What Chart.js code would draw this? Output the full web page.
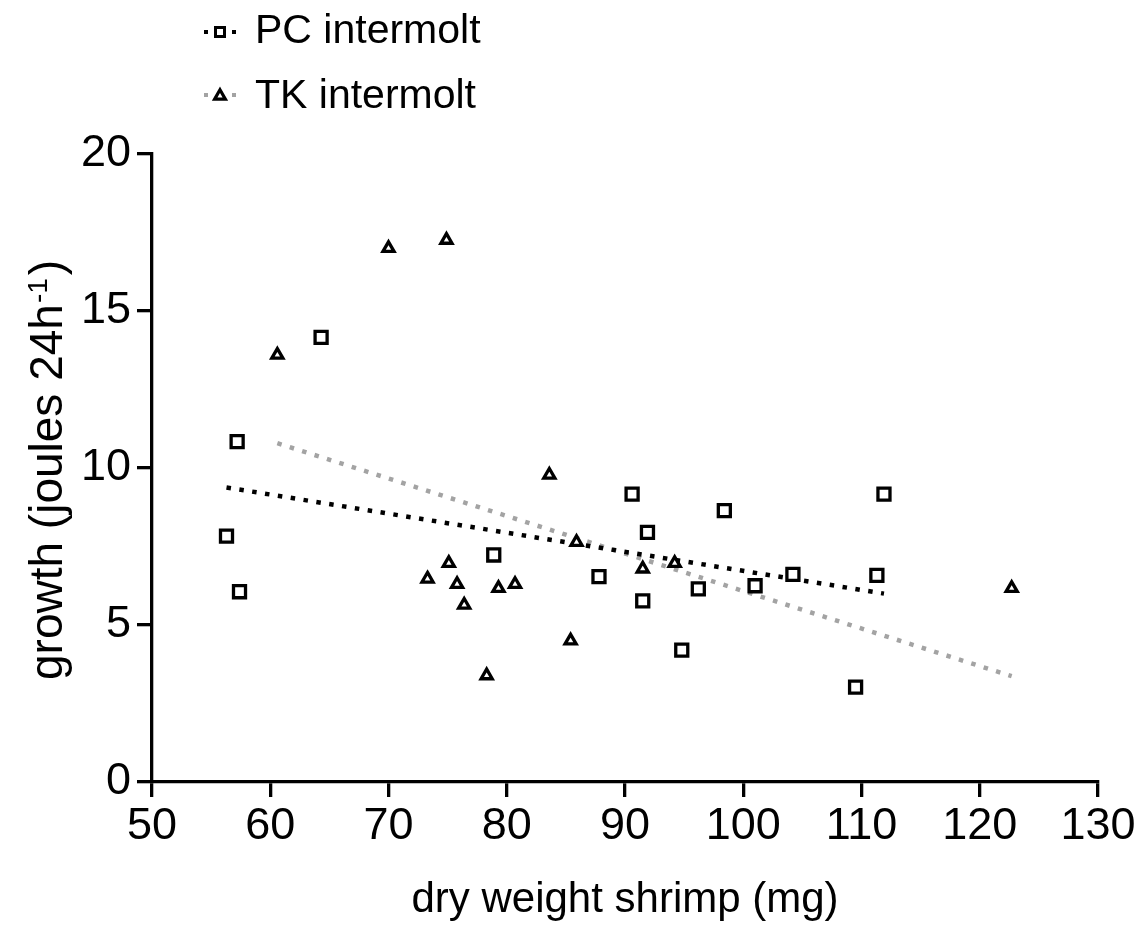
<!DOCTYPE html>
<html>
<head>
<meta charset="utf-8">
<script src="https://cdn.jsdelivr.net/npm/chart.js@4.4.1/dist/chart.umd.min.js"></script>
<style>
  html, body { margin: 0; padding: 0; background: #fff; }
  #wrap { width: 1141px; height: 927px; }
</style>
</head>
<body>
<div id="wrap"><canvas id="c" width="1141" height="927"></canvas></div>
<script>
// ---- data ----
const pcX = [56.3, 57.2, 57.4, 64.3, 78.9, 87.8, 90.6, 91.5, 91.9, 94.8, 96.2, 98.4, 101.0, 104.2, 109.5, 111.3, 111.9];
const pcY = [7.83, 10.84, 6.06, 14.16, 7.23, 6.54, 9.17, 5.77, 7.95, 4.20, 6.15, 8.64, 6.25, 6.61, 3.02, 6.58, 9.17];

const tkX = [60.6, 70.0, 74.9, 73.3, 75.1, 75.8, 76.4, 78.3, 79.3, 80.7, 83.6, 85.4, 85.9, 91.5, 94.2, 122.7];
const tkY = [13.60, 17.00, 17.26, 6.47, 6.97, 6.30, 5.64, 3.39, 6.17, 6.30, 9.78, 4.50, 7.64, 6.79, 6.97, 6.17];

// fitted regression lines (end points)
const pcFitX = [56.3, 111.9];
const pcFitY = [9.38, 6.00];
const tkFitX = [60.6, 122.7];
const tkFitY = [10.79, 3.37];

const xTicks = [50, 60, 70, 80, 90, 100, 110, 120, 130];
const yTicks = [0, 5, 10, 15, 20];

const seriesNames = ['PC intermolt', 'TK intermolt'];
const xTitle = 'dry weight shrimp (mg)';
const yTitleMain = 'growth (joules 24h';
const yTitleSup = '-1';
const yTitleEnd = ')';

// ---- build ----
const toPts = (xs, ys) => xs.map((x, i) => ({x: x, y: ys[i]}));
const FONT = "'Liberation Sans', Arial, Helvetica, sans-serif";
const GREY = '#a3a3a3';

const legendPlugin = {
  id: 'customLegend',
  afterDraw(chart) {
    const ctx = chart.ctx;
    ctx.save();
    const items = [
      {cy: 32, base: 43, color: '#000', style: 'rect', text: seriesNames[0]},
      {cy: 95, base: 108, color: GREY, style: 'triangle', text: seriesNames[1]}
    ];
    items.forEach(it => {
      ctx.fillStyle = it.color;
      ctx.fillRect(204, it.cy - 2, 4, 4);
      ctx.fillRect(232, it.cy - 2, 4, 4);
      ctx.strokeStyle = '#000';
      ctx.fillStyle = '#fff';
      ctx.lineJoin = 'miter';
      if (it.style === 'rect') {
        ctx.lineWidth = 3;
        ctx.beginPath();
        ctx.rect(220 - 4.5, it.cy - 4.5, 9, 9);
        ctx.fill(); ctx.stroke();
      } else {
        const r = 6.2, cx = 220, cy = it.cy + 1;
        ctx.lineWidth = 3.2;
        ctx.beginPath();
        ctx.moveTo(cx, cy - r);
        ctx.lineTo(cx + r * Math.sin(2 * Math.PI / 3), cy + r / 2);
        ctx.lineTo(cx - r * Math.sin(2 * Math.PI / 3), cy + r / 2);
        ctx.closePath();
        ctx.fill(); ctx.stroke();
      }
      ctx.fillStyle = '#000';
      ctx.font = '41px ' + FONT;
      ctx.textAlign = 'left';
      ctx.textBaseline = 'alphabetic';
      ctx.fillText(it.text, 255, it.base);
    });

    // y axis title with superscript
    ctx.translate(62, 680);
    ctx.rotate(-Math.PI / 2);
    ctx.fillStyle = '#000';
    ctx.textBaseline = 'alphabetic';
    ctx.textAlign = 'left';
    ctx.font = '46px ' + FONT;
    ctx.fillText(yTitleMain, 0, 0);
    let w = ctx.measureText(yTitleMain).width;
    ctx.font = '28px ' + FONT;
    ctx.fillText(yTitleSup, w + 1, -15);
    w += ctx.measureText(yTitleSup).width + 4;
    ctx.font = '46px ' + FONT;
    ctx.fillText(yTitleEnd, w, 0);
    ctx.restore();
  }
};

const tickFont = {family: FONT, size: 45};

new Chart(document.getElementById('c'), {
  type: 'scatter',
  data: {
    datasets: [
      {
        label: seriesNames[0],
        data: toPts(pcX, pcY),
        pointStyle: 'rect',
        pointRadius: 8.5,
        pointHoverRadius: 8.5,
        borderWidth: 3.3,
        borderColor: '#000',
        backgroundColor: '#fff'
      },
      {
        label: seriesNames[1],
        data: toPts(tkX, tkY),
        pointStyle: 'triangle',
        pointRadius: 6.4,
        pointHoverRadius: 6.4,
        borderWidth: 3.3,
        borderColor: '#000',
        backgroundColor: '#fff'
      },
      {
        label: seriesNames[0] + ' fit',
        data: toPts(pcFitX, pcFitY),
        showLine: true,
        pointRadius: 0,
        borderColor: '#000',
        borderWidth: 4.5,
        borderDash: [4.5, 8.5],
        borderCapStyle: 'butt',
        fill: false
      },
      {
        label: seriesNames[1] + ' fit',
        data: toPts(tkFitX, tkFitY),
        showLine: true,
        pointRadius: 0,
        borderColor: GREY,
        borderWidth: 4.5,
        borderDash: [4.5, 8.5],
        borderCapStyle: 'butt',
        fill: false
      }
    ]
  },
  options: {
    responsive: false,
    animation: false,
    events: [],
    layout: {padding: {top: 154, right: 43, left: 0, bottom: 0}},
    plugins: {legend: {display: false}, tooltip: {enabled: false}},
    scales: {
      x: {
        type: 'linear',
        min: xTicks[0],
        max: xTicks[xTicks.length - 1],
        afterBuildTicks: s => { s.ticks = xTicks.map(v => ({value: v})); },
        ticks: {font: tickFont, color: '#000', padding: 3, maxRotation: 0, autoSkip: false},
        grid: {display: true, drawOnChartArea: false, drawTicks: true, tickLength: 15, lineWidth: 3.3, color: '#000'},
        border: {display: true, width: 3.3, color: '#000'},
        title: {display: true, text: xTitle, color: '#000', font: {family: FONT, size: 42}, padding: {top: 0, bottom: 1}},
        afterFit: s => { s.height = 145; }
      },
      y: {
        type: 'linear',
        min: yTicks[0],
        max: yTicks[yTicks.length - 1],
        afterBuildTicks: s => { s.ticks = yTicks.map(v => ({value: v})); },
        ticks: {font: tickFont, color: '#000', padding: 6, autoSkip: false},
        grid: {display: true, drawOnChartArea: false, drawTicks: true, tickLength: 15, lineWidth: 3.3, color: '#000'},
        border: {display: true, width: 3.3, color: '#000'},
        afterFit: s => { s.width = 152; }
      }
    }
  },
  plugins: [legendPlugin]
});
</script>
</body>
</html>
